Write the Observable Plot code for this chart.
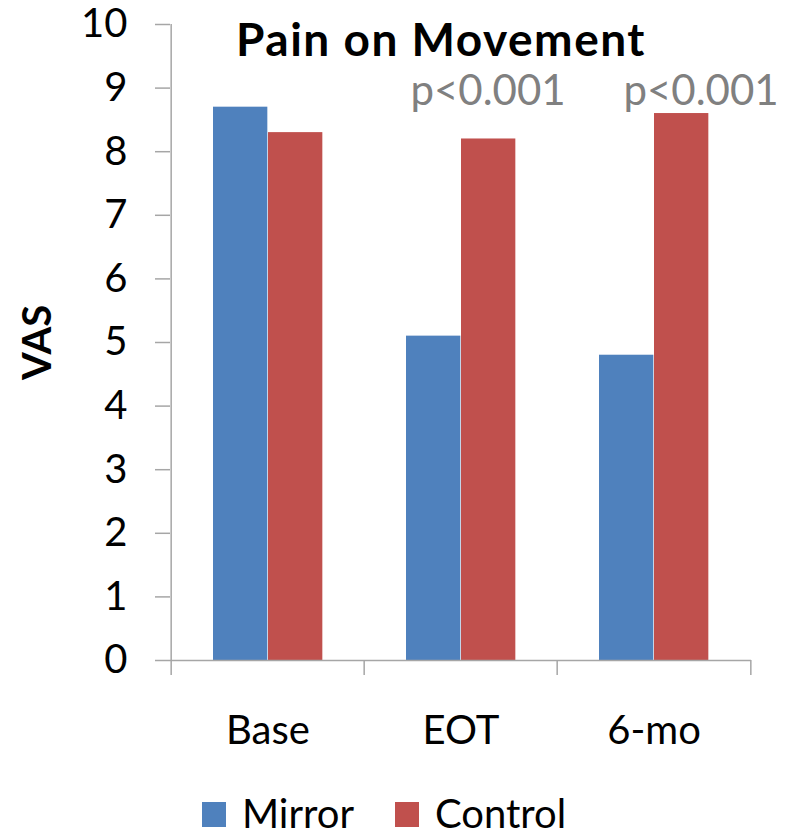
<!DOCTYPE html>
<html>
<head>
<meta charset="utf-8">
<script src="https://cdn.jsdelivr.net/npm/d3@7"></script>
<script src="https://cdn.jsdelivr.net/npm/@observablehq/plot@0.6"></script>
<style>
  html, body { margin: 0; padding: 0; background: #fff; }
  #chart { position: relative; width: 785px; height: 837px; font-family: Lato, "Open Sans", sans-serif; }
  #legend { position: absolute; left: 202px; top: 792px; height: 42px; display: flex; align-items: center; font-size: 40px; line-height: 1; color: #000; }
  #legend .item { display: flex; align-items: center; margin-right: 41px; }
  #legend .swatch { width: 24px; height: 25px; margin-right: 16px; margin-top: 3px; }
</style>
</head>
<body>
<div id="chart"></div>
<script>
// Pain on movement (VAS) for the two groups at each time point
const categories = ["Base", "EOT", "6-mo"];
const series = ["Mirror", "Control"];
const mirrorValues = [8.7, 5.1, 4.8];
const controlValues = [8.3, 8.2, 8.6];
const seriesColors = ["#4F81BD", "#C0504D"];
const yTicks = [0, 1, 2, 3, 4, 5, 6, 7, 8, 9, 10];
const title = "Pain on Movement";
const yLabel = "VAS";
const pValueText = "p<0.001";

const mirrorRows = categories.map((c, i) => ({category: c, series: "Mirror", value: mirrorValues[i]}));
const controlRows = categories.map((c, i) => ({category: c, series: "Control", value: controlValues[i]}));

const width = 785;
const height = 780;
const marginLeft = 170;
const marginRight = 34;
const bandWidth = (width - marginLeft - marginRight) / categories.length;
const axisGray = "#A6A6A6";

const plot = Plot.plot({
  width,
  height,
  marginLeft,
  marginRight,
  marginTop: 24,
  marginBottom: 120,
  style: {fontFamily: "Lato, 'Open Sans', sans-serif", background: "#fff", overflow: "visible"},
  x: {type: "band", domain: categories, padding: 0},
  y: {domain: [0, 10]},
  color: {domain: series, range: seriesColors},
  marks: [
    // bars: each series takes one half of the central part of the band
    Plot.barY(mirrorRows, {x: "category", y: "value", fill: "series", insetLeft: 42, insetRight: bandWidth - 97}),
    Plot.barY(controlRows, {x: "category", y: "value", fill: "series", insetLeft: 97, insetRight: bandWidth - 152}),
    // y axis line and baseline
    Plot.ruleX([categories[0]], {dx: -bandWidth / 2, y1: 0, y2: 10, stroke: axisGray, strokeWidth: 1.5}),
    Plot.ruleY([0], {stroke: axisGray, strokeWidth: 1.5}),
    // y axis ticks and labels
    Plot.axisY({ticks: yTicks, tickSize: 15, tickPadding: 28, stroke: axisGray, strokeWidth: 1.5, fontSize: 40, fill: "#000", label: null}),
    // category boundary ticks below the baseline
    Plot.axisX({tickSize: 15, tickFormat: null, dx: -bandWidth / 2, stroke: axisGray, strokeWidth: 1.5, label: null}),
    Plot.axisX({ticks: [categories[categories.length - 1]], tickSize: 15, tickFormat: null, dx: bandWidth / 2, stroke: axisGray, strokeWidth: 1.5, label: null}),
    // category labels
    Plot.axisX({tickSize: 0, tickPadding: 55, fontSize: 40, fill: "#000", label: null}),
    // significance labels above the control bars
    Plot.text([pValueText], {x: () => "EOT", frameAnchor: "top", lineAnchor: "top", dy: 51, dx: 27, fontSize: 42, fill: "#808080"}),
    Plot.text([pValueText], {x: () => "6-mo", frameAnchor: "top", lineAnchor: "top", dy: 51, dx: 47, fontSize: 42, fill: "#808080"}),
    // title
    Plot.text([title], {frameAnchor: "top", lineAnchor: "top", dx: -20, dy: -1, fontSize: 46, fontWeight: "bold", fill: "#000"}),
    // y axis title
    Plot.text([yLabel], {frameAnchor: "left", textAnchor: "middle", rotate: -90, dx: -132, fontSize: 40, fontWeight: "bold", fill: "#000"})
  ]
});

// a little extra tracking on the title
d3.select(plot).selectAll("text").filter(function () { return this.textContent === title; })
  .style("letter-spacing", "1.5px");

const chart = document.getElementById("chart");
chart.appendChild(plot);

// legend below the plot
const legend = document.createElement("div");
legend.id = "legend";
series.forEach((name, i) => {
  const item = document.createElement("div");
  item.className = "item";
  const sw = document.createElement("span");
  sw.className = "swatch";
  sw.style.background = seriesColors[i];
  const label = document.createElement("span");
  label.textContent = name;
  item.appendChild(sw);
  item.appendChild(label);
  legend.appendChild(item);
});
chart.appendChild(legend);
</script>
</body>
</html>
